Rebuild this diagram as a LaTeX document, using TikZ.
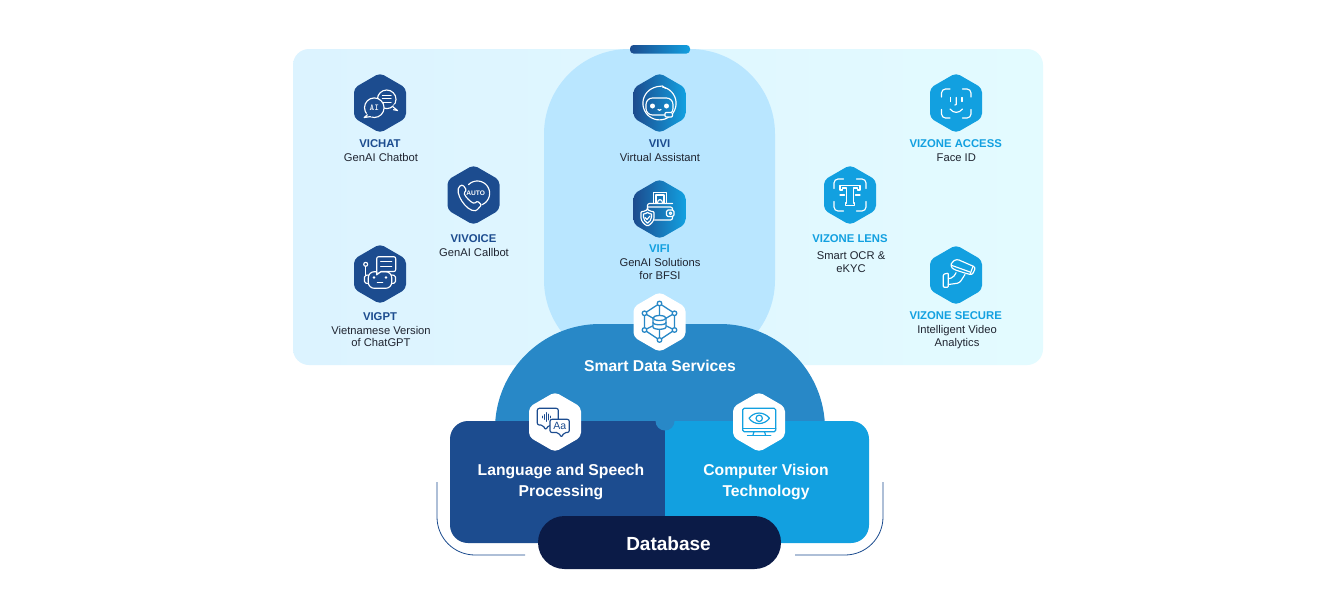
\documentclass[tikz,border=0pt]{standalone}
\usepackage{fontspec}
\setmainfont{Liberation Sans}
\definecolor{navy}{HTML}{1C4C8F}
\definecolor{sky}{HTML}{12A0E0}
\definecolor{dome}{HTML}{2888C7}
\definecolor{deep}{HTML}{0B1B47}
\definecolor{mid}{HTML}{B9E6FF}
\definecolor{ink}{HTML}{1F2430}
\definecolor{pl}{HTML}{DCF3FF}
\definecolor{pr}{HTML}{E3FBFF}
\definecolor{gmid}{HTML}{1A6DB3}
\newcommand{\myarc}[5]{plot[domain=#4:#5,samples=36,smooth] ({#1+#3*cos(\x)},{#2+#3*sin(\x)})}
\newcommand{\hexpath}{(-13,22.5) -- (-26,15) -- (-26,-15) -- (0,-30) -- (26,-15) -- (26,15) -- (0,30) -- cycle}
\tikzset{
  x=1pt,y=-1pt,
  title/.style={anchor=base,inner sep=0,font=\fontsize{11.3}{12}\selectfont\bfseries},
  navyt/.style={title,text=navy},
  skyt/.style={title,text=sky},
  body/.style={anchor=base,inner sep=0,text=ink,font=\fontsize{11.2}{12}\selectfont},
  big/.style={anchor=base,inner sep=0,text=white,font=\fontsize{15.7}{18}\selectfont\bfseries},
  ic/.style={draw=white,line width=1.15,line cap=round,line join=round},
  hx/.style={rounded corners=4.5},
}
\begin{document}
\begin{tikzpicture}
\useasboundingbox (0,0) rectangle (1338,614);
\fill[white] (0,0) rectangle (1338,614);
% panels
\shade[left color=pl,right color=pr,rounded corners=16] (293,49) rectangle (1043,365);
\fill[mid,rounded corners=85] (544,49) rectangle (775,365);
\shade[left color=navy,right color=sky,rounded corners=3.5] (630,45) rectangle (690,53.5);
% dome
\fill[dome] (495,440) -- (495,429) .. controls (495,371) and (542,324) .. (600,324) -- (720,324) .. controls (778,324) and (825,371) .. (825,429) -- (825,440) -- cycle;
% blocks
\fill[navy,rounded corners=18] (450,421) rectangle (680,543);
\fill[sky,rounded corners=18] (650,421) rectangle (869,543);
\fill[navy] (650,421) rectangle (665,543);
\begin{scope}
\clip (650,421) rectangle (680,440);
\fill[dome] (665,421) circle (9.5);
\end{scope}
% base outline
\draw[navy,line width=0.8,rounded corners=38] (437,482) -- (437,555) -- (525,555);
\draw[navy,line width=0.8,rounded corners=38] (883,482) -- (883,555) -- (795,555);
\fill[deep,rounded corners=26.5] (538,516) rectangle (781,569);

% VICHAT
\begin{scope}[shift={(380,103)}]
\fill[navy,hx] \hexpath;
\draw[ic] (6.7,-3.7) circle (9.3);
\fill[navy] (12,4) -- (18,7.5) -- (15,1) -- cycle;
\draw[ic] (12.5,3.4) -- (17.5,7.5) -- (13.5,6.7);
\draw[ic] (2.5,-7.5) -- (11,-7.5) (2.5,-4.2) -- (11,-4.2) (2.5,-0.9) -- (11,-0.9);
\draw[ic,fill=navy] (-5.7,4.7) circle (9.8);
\fill[navy] (-12,9) -- (-16,14.5) -- (-8,13.5) -- cycle;
\draw[ic] (-12.6,11.7) -- (-15.8,14.5) -- (-9.5,13.6);
\node[inner sep=0,text=white,font=\fontsize{9}{9}\ttfamily\bfseries] (aitext) at (-5.7,4.9) {AI};
\end{scope}

% VIVOICE
\begin{scope}[shift={(473.5,195)}]
\fill[navy,hx] \hexpath;
\draw[ic] \myarc{3.8}{-1.7}{12.3}{-135}{68};
\draw[ic,rounded corners=1.2] (-13,-9.5) .. controls (-20,-3) and (-7,17) .. (3,15.5) -- (8,10) -- (4,6) -- (1,8.5) .. controls (-3,7) and (-8,2) .. (-9.5,-2) -- (-7,-5) -- (-10.5,-10) -- cycle;
\node[inner sep=0,text=white,font=\fontsize{6.6}{7}\selectfont\bfseries] (autotext) at (2.2,-1.7) {AUTO};
\end{scope}

% VIGPT
\begin{scope}[shift={(380,274)}]
\fill[navy,hx] \hexpath;
\draw[ic,rounded corners=6] (-11.7,-2.3) rectangle (11.7,14.3);
\draw[ic,rounded corners=1.5] (-11.7,1) -- (-15.5,1.5) -- (-15.5,9) -- (-11.7,9.5);
\draw[ic,rounded corners=1.5] (11.7,1) -- (15.5,1.5) -- (15.5,9) -- (11.7,9.5);
\fill[white] (-6,3.5) circle (1.4) (6,3.5) circle (1.4);
\draw[ic] (-2.7,8.3) -- (2.7,8.3);
\draw[ic] (-14.3,-7.7) -- (-14.3,1);
\draw[ic] (-14.3,-9.7) circle (2);
\fill[navy] (-3.3,-17.3) rectangle (15.7,-2.5);
\draw[ic] (6,-17.3) -- (13.7,-17.3) .. controls (15,-17.3) and (15.7,-16.5) .. (15.7,-15.3) -- (15.7,-4.5) .. controls (15.7,-3.2) and (15,-2.5) .. (13.7,-2.5) -- (1,-2.5) -- (-3.3,0.8) -- (-3.3,-15.3) .. controls (-3.3,-16.5) and (-2.5,-17.3) .. (-1.3,-17.3) -- (6,-17.3);
\draw[ic] (0.7,-12.3) -- (11.7,-12.3) (0.7,-7.3) -- (11.7,-7.3);
\end{scope}

% VIVI
\begin{scope}[shift={(659.5,103)}]
\shade[left color=navy,right color=sky,hx] \hexpath;
\draw[ic] \myarc{0}{0.3}{16.6}{-80}{250};
\draw[ic] (-5.7,-15.3) .. controls (-2,-17) and (1,-16.5) .. (3,-17) .. controls (4,-15.5) and (6,-15) .. (6.5,-14.6);
\draw[ic,rounded corners=6.5] (-13.5,-5) rectangle (13.5,12);
\fill[white] (-7,3) circle (2.5) (7,3) circle (2.5);
\draw[ic] (-1.5,6.5) .. controls (-0.5,7.5) and (0.5,7.5) .. (1.5,6.5);
\fill[gmid!60!sky] (5.5,9) rectangle (13,14);
\draw[ic,rounded corners=1] (5.5,9.5) rectangle (13,14);
\end{scope}

% VIFI
\begin{scope}[shift={(659.5,209)}]
\shade[left color=navy,right color=sky,hx] \hexpath;
\draw[ic] (-6,-6) -- (-6,-16.5) -- (7,-16.5) -- (7,-6);
\draw[ic] (-3.5,-6) -- (-3.5,-14) -- (4.5,-14) -- (4.5,-6);
\draw[ic] (-2,-6) .. controls (-2,-10.5) and (3,-10.5) .. (3,-6);
\draw[ic,rounded corners=2] (-12,2) -- (-12,-5.5) -- (13,-5.5);
\draw[ic,rounded corners=2] (-12,-2) -- (13,-2) -- (13,1);
\draw[ic,rounded corners=2] (13,7.5) -- (13,11) -- (-5,11);
\draw[ic,rounded corners=1.5] (14.5,1) rectangle (7,7.5);
\draw[ic] (11,4.2) circle (1.3);
\draw[ic,fill=gmid,rounded corners=1] (-12,0.5) .. controls (-15,2.5) and (-17,2.5) .. (-18.5,2.5) -- (-18.5,8) .. controls (-18.5,12) and (-15,15.5) .. (-12,17) .. controls (-9,15.5) and (-5.5,12) .. (-5.5,8) -- (-5.5,2.5) .. controls (-7,2.5) and (-9,2.5) .. (-12,0.5) -- cycle;
\draw[ic] (-12,3.5) .. controls (-14,4.6) and (-15,5) .. (-16,5) -- (-16,8) .. controls (-16,10.5) and (-14,13) .. (-12,14.2) .. controls (-10,13) and (-8,10.5) .. (-8,8) -- (-8,5) .. controls (-9,5) and (-10,4.6) .. (-12,3.5) -- cycle;
\draw[ic] (-14.5,8.5) -- (-12.5,10.5) -- (-9.5,7);
\end{scope}

% VIZONE ACCESS
\begin{scope}[shift={(956,103)}]
\fill[sky,hx] \hexpath;
\draw[ic,rounded corners=4] (-14.5,-6) -- (-14.5,-14) -- (-6,-14);
\draw[ic,rounded corners=4] (6.5,-14) -- (15,-14) -- (15,-6);
\draw[ic,rounded corners=4] (-14.5,6.5) -- (-14.5,15) -- (-6,15);
\draw[ic,rounded corners=4] (6.5,15) -- (15,15) -- (15,6.5);
\draw[ic] (-5.5,-5.5) -- (-5.5,-1.5) (6,-5.5) -- (6,-1.5);
\draw[ic] (0.3,-5.5) -- (0.3,1.5) -- (-1.2,2);
\draw[ic] (-6,6) .. controls (-2.5,10.5) and (3,10.5) .. (6.5,6);
\end{scope}

% VIZONE LENS
\begin{scope}[shift={(850,195)}]
\fill[sky,hx] \hexpath;
\draw[ic,rounded corners=4] (-16,-6.5) -- (-16,-16) -- (-6.5,-16);
\draw[ic,rounded corners=4] (6.5,-16) -- (16,-16) -- (16,-6.5);
\draw[ic,rounded corners=4] (-16,6.5) -- (-16,16) -- (-6.5,16);
\draw[ic,rounded corners=4] (6.5,16) -- (16,16) -- (16,6.5);
\draw[ic] (-10,-5) -- (-10,-9.5) -- (10,-9.5) -- (10,-5) -- (7.5,-5) -- (7.5,-7) -- (3.2,-7) -- (3.2,8) -- (4.5,8) -- (4.5,10.5) -- (-4.5,10.5) -- (-4.5,8) -- (-3.2,8) -- (-3.2,-7) -- (-7.5,-7) -- (-7.5,-5) -- cycle;
\draw[ic] (-10,0) -- (-5.5,0) (5.5,0) -- (10,0);
\end{scope}

% VIZONE SECURE
\begin{scope}[shift={(956,275)}]
\fill[sky,hx] \hexpath;
\draw[ic,rounded corners=2.5] (-2.7,-5.7) -- (-5.5,-9) -- (-4,-13) -- (0.7,-16) -- (19.7,-7.7) -- (16.3,0) -- (9.7,-1.7) -- cycle;
\draw[ic] (-4,-9.5) -- (14,-3);
\draw[ic] (14,-0.7) -- (17,-8.6);
\draw[ic,rounded corners=2] (0,-2.3) -- (-2.7,2.5) -- (-7.7,3.7);
\draw[ic,rounded corners=2.5] (9,-0.5) -- (3.5,8) -- (-7.7,9.5);
\draw[ic,rounded corners=1] (-12.7,-0.7) -- (-7.7,-2) -- (-7.7,12.3) -- (-12.7,12.3) -- cycle;
\end{scope}

% Smart data icon
\begin{scope}[shift={(659.5,322)}]
\fill[white,hx] \hexpath;
\tikzset{ib/.style={draw=dome,line width=1.3,line cap=round,line join=round}}
\draw[ib] (0,-18.5) -- (15,-8.7) -- (15,8) -- (0,18) -- (-15,8) -- (-15,-8.7) -- cycle;
\draw[ib] (0,-18.5) -- (0,-7) (15,-8.7) -- (6,-3.5) (15,8) -- (6,3.5) (0,18) -- (0,7) (-15,8) -- (-6,3.5) (-15,-8.7) -- (-6,-3.5);
\foreach \p/\q in {0/-18.5,15/-8.7,15/8,0/18,-15/8,-15/-8.7}{\draw[ib,fill=white] (\p,\q) circle (2.3);}
\draw[ib,fill=white] (-6.5,-4) -- (-6.5,5) .. controls (-6.5,8) and (6.5,8) .. (6.5,5) -- (6.5,-4);
\draw[ib,fill=white] (0,-4) ellipse (6.5 and 2.5);
\draw[ib] (-6.5,0.5) .. controls (-6.5,3.5) and (6.5,3.5) .. (6.5,0.5);
\end{scope}

% LSP icon
\begin{scope}[shift={(555,422)}]
\fill[white,hx] \hexpath;
\tikzset{ib/.style={draw=navy,line width=1.15,line cap=round,line join=round}}
\draw[ib,rounded corners=2] (-8,-13.7) -- (3.3,-13.7) -- (3.3,3) -- (-6,3) -- (-9.5,8) -- (-12,3) -- (-17.7,3) -- (-17.7,-13.7) -- (-8,-13.7);
\draw[navy,line width=0.7,line cap=round] (-13,-6) -- (-13,-4) (-11,-7.5) -- (-11,-2.5) (-9,-9.5) -- (-9,-0.5) (-7,-8) -- (-7,-2) (-5,-6) -- (-5,-4);
\draw[ib,fill=white,rounded corners=2] (4,-2.7) -- (14.3,-2.7) -- (14.3,10.5) -- (9,10.5) -- (6.5,15.5) -- (3.5,10.5) -- (-5,10.5) -- (-5,-2.7) -- (4,-2.7);
\node[inner sep=0,text=navy,font=\fontsize{10.5}{10}\selectfont] (aatext) at (4.7,3.8) {Aa};
\end{scope}

% CV icon
\begin{scope}[shift={(759,422)}]
\fill[white,hx] \hexpath;
\tikzset{ib/.style={draw=sky,line width=1.2,line cap=round,line join=round}}
\draw[ib,rounded corners=1.5] (-16.3,-13.7) rectangle (16.7,9.7);
\draw[ib] (-16.3,6.8) -- (16.7,6.8);
\draw[ib] (-10,-3.7) .. controls (-5,-10.7) and (5,-10.7) .. (10.5,-3.7) .. controls (5,3.3) and (-5,3.3) .. (-10,-3.7) -- cycle;
\draw[ib] (0.2,-3.7) circle (3.2);
\draw[ib] (-5,9.7) -- (-6,13) (5.5,9.7) -- (6.5,13);
\draw[ib] (-11.5,13.2) -- (11.7,13.2);
\end{scope}

% labels
\node[navyt] (vichat) at (380,147.3) {VICHAT};
\node[body] (vichatb) at (381,161) {GenAI Chatbot};
\node[navyt] (vivoice) at (473.5,242.3) {VIVOICE};
\node[body] (vivoiceb) at (474,256) {GenAI Callbot};
\node[navyt] (vigpt) at (380,320) {VIGPT};
\node[body] (vigptb) at (381,334) {Vietnamese Version};
\node[body] (vigptc) at (381,346.7) {of ChatGPT};
\node[navyt] (vivi) at (659.5,147.3) {VIVI};
\node[body] (vivib) at (660,161) {Virtual Assistant};
\node[skyt] (vifi) at (659.5,252) {VIFI};
\node[body] (vifib) at (660,266) {GenAI Solutions};
\node[body] (vific) at (660,279) {for BFSI};
\node[skyt] (access) at (955.7,147.3) {VIZONE ACCESS};
\node[body] (accessb) at (956.3,161) {Face ID};
\node[skyt] (lens) at (850,242.3) {VIZONE LENS};
\node[body] (lensb) at (851,259) {Smart OCR \&};
\node[body] (lensc) at (851,272) {eKYC};
\node[skyt] (secure) at (955.7,319) {VIZONE SECURE};
\node[body] (secureb) at (957,333.3) {Intelligent Video};
\node[body] (securec) at (957,346) {Analytics};
\node[big] (sds) at (660,371) {Smart Data Services};
\node[big] (lsp) at (561,475.5) {Language and Speech};
\node[big] (lspb) at (561,496) {Processing};
\node[big] (cv) at (766,475.5) {Computer Vision};
\node[big] (cvb) at (766,496) {Technology};
\node[big,font=\fontsize{19}{20}\selectfont\bfseries] (db) at (668.5,550) {Database};
\end{tikzpicture}
\end{document}
